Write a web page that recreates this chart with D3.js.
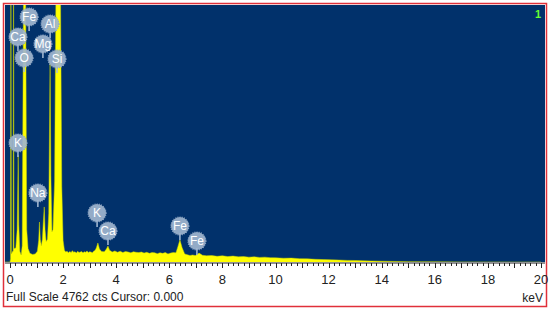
<!DOCTYPE html>
<html><head><meta charset="utf-8">
<script src="https://cdn.jsdelivr.net/npm/d3@7"></script>
<style>
html,body{margin:0;padding:0;background:#fff;}
svg{display:block;font-family:Arial,"Liberation Sans",sans-serif;}
</style></head>
<body><svg id="c" width="550" height="310"></svg>
<script>
// ---- data ----
const fullScale = 4762;
const cursorValue = "0.000";
const spectrumNumber = "1";
const energy = [-0.2,0.00,0.02,0.035,0.05,0.10,0.12,0.135,0.15,0.22,0.27,0.31,0.33,0.37,0.42,0.46,0.52,0.58,0.63,0.68,0.75,0.85,0.95,1.03,1.08,1.11,1.14,1.18,1.22,1.25,1.29,1.32,1.36,1.41,1.46,1.51,1.54,1.58,1.62,1.68,1.73,1.82,1.90,1.95,2.00,2.05,2.10,2.15,2.20,2.25,2.30,2.35,2.40,2.45,2.50,2.55,2.60,2.65,2.70,2.75,2.80,2.85,2.90,2.95,3.00,3.05,3.10,3.15,3.20,3.25,3.31,3.37,3.45,3.55,3.63,3.69,3.75,3.85,3.95,4.05,4.15,4.25,4.35,4.45,4.55,4.65,4.75,4.85,4.95,5.05,5.15,5.25,5.35,5.45,5.55,5.65,5.75,5.85,5.95,6.05,6.15,6.25,6.32,6.40,6.48,6.58,6.68,6.78,6.88,6.98,7.05,7.12,7.25,7.4,7.6,7.8,8.0,8.2,8.4,8.6,8.8,9.0,9.2,9.4,9.6,9.8,10.0,10.3,10.6,10.9,11.2,11.5,11.8,12.1,12.4,12.7,13.0,13.3,13.6,14.0,14.5,15.0,15.5,16.0,17.0,18.0,19.0,20.0,20.2];
const counts = [0,0,60,6000,150,200,200,6000,250,260,600,1980,700,200,130,300,6000,6000,600,250,160,140,150,200,400,741,420,300,420,700,1020,600,380,420,900,3690,1600,560,600,1500,5000,14000,5200,1400,400,220,185,200,170,195,175,210,180,190,165,200,175,185,195,170,190,180,205,175,190,185,170,200,215,260,352,240,195,190,240,296,220,185,205,180,200,175,195,185,170,190,180,175,185,165,180,160,175,170,155,170,160,175,150,165,175,170,280,410,270,150,135,120,130,120,140,165,125,115,120,105,115,100,110,95,100,90,95,85,90,80,78,70,72,62,58,50,45,40,36,30,28,22,18,14,10,6,4,3,2,1,0,0];
const labelNames  = ["Fe","Ca","Al","Mg","O","Si","K","Na","K","Ca","Fe","Fe"];
const labelEnergy = [0.72,0.30,1.51,1.24,0.53,1.77,0.30,1.05,3.28,3.69,6.40,7.04];
const labelLevel  = [4540,4169,4410,4040,3780,3762,2205,1279,908,574,667,389];
const tickValues = [0,2,4,6,8,10,12,14,16,18,20];
const axisUnit = "keV";

// ---- layout ----
const svg = d3.select("#c");
const plot = {left:5, right:545, top:5, bottom:262};
const x = d3.scaleLinear().domain([0,20]).range([10,541]);
const y = d3.scaleLinear().domain([0,fullScale]).range([plot.bottom, plot.top]);

// outer border
svg.append("rect").attr("x",3.5).attr("y",3.5).attr("width",543).attr("height",303)
  .attr("fill","#fff").attr("stroke","#e0303a").attr("stroke-width",1.5);

// plot background
svg.append("rect").attr("x",plot.left).attr("y",plot.top)
  .attr("width",plot.right-plot.left).attr("height",plot.bottom-plot.top)
  .attr("fill","#01316b");

svg.append("clipPath").attr("id","clip").append("rect")
  .attr("x",plot.left).attr("y",plot.top)
  .attr("width",plot.right-plot.left).attr("height",plot.bottom-plot.top);

const pts = energy.map((e,i)=>[e,counts[i]]);
const area = d3.area().x(d=>x(d[0])).y0(plot.bottom).y1(d=>y(d[1]));
svg.append("path").datum(pts).attr("clip-path","url(#clip)")
  .attr("d",area).attr("fill","#ffff00").attr("stroke","#c8d400").attr("stroke-width",0.5);

// spectrum number
svg.append("text").attr("x",538).attr("y",18).attr("text-anchor","middle")
  .attr("font-size",11).attr("font-weight","bold").attr("fill","#66ff33").text(spectrumNumber);

// element labels
const lab = svg.append("g");
labelNames.forEach((n,i)=>{
  const cx = x(labelEnergy[i]), cy = y(labelLevel[i]);
  lab.append("line").attr("x1",cx).attr("x2",cx).attr("y1",cy+7).attr("y2",cy+14)
    .attr("stroke","#a8bdd6").attr("stroke-width",1.5);
  lab.append("circle").attr("cx",cx).attr("cy",cy).attr("r",9)
    .attr("fill","#a0b5cf").attr("fill-opacity",0.92)
    .attr("stroke","#8ea5c2").attr("stroke-width",1.2).attr("stroke-dasharray","1,1.2");
  lab.append("text").attr("x",cx).attr("y",cy+4).attr("text-anchor","middle")
    .attr("font-size",12).attr("fill","#ffffff").text(n);
});

// axis
const axisY = 263;
svg.append("line").attr("x1",plot.left).attr("x2",plot.right).attr("y1",axisY).attr("y2",axisY)
  .attr("stroke","#222").attr("stroke-width",1);
const minor = d3.range(0,20.01,0.2);
svg.append("g").selectAll("line").data(minor).join("line")
  .attr("x1",d=>Math.round(x(d))+0.5).attr("x2",d=>Math.round(x(d))+0.5)
  .attr("y1",axisY).attr("y2",d=>Math.abs(d-Math.round(d))<1e-6 ? axisY+5 : axisY+3)
  .attr("stroke","#222").attr("stroke-width",1);
svg.append("g").selectAll("text").data(tickValues).join("text")
  .attr("x",d=>x(d)).attr("y",284).attr("text-anchor","middle")
  .attr("font-size",13).attr("fill","#222").text(d=>d);

svg.append("text").attr("x",6).attr("y",301).attr("font-size",12).attr("fill","#222")
  .text(`Full Scale ${fullScale} cts Cursor: ${cursorValue}`);
svg.append("text").attr("x",543).attr("y",302).attr("text-anchor","end")
  .attr("font-size",12).attr("fill","#222").text(axisUnit);
</script></body></html>
